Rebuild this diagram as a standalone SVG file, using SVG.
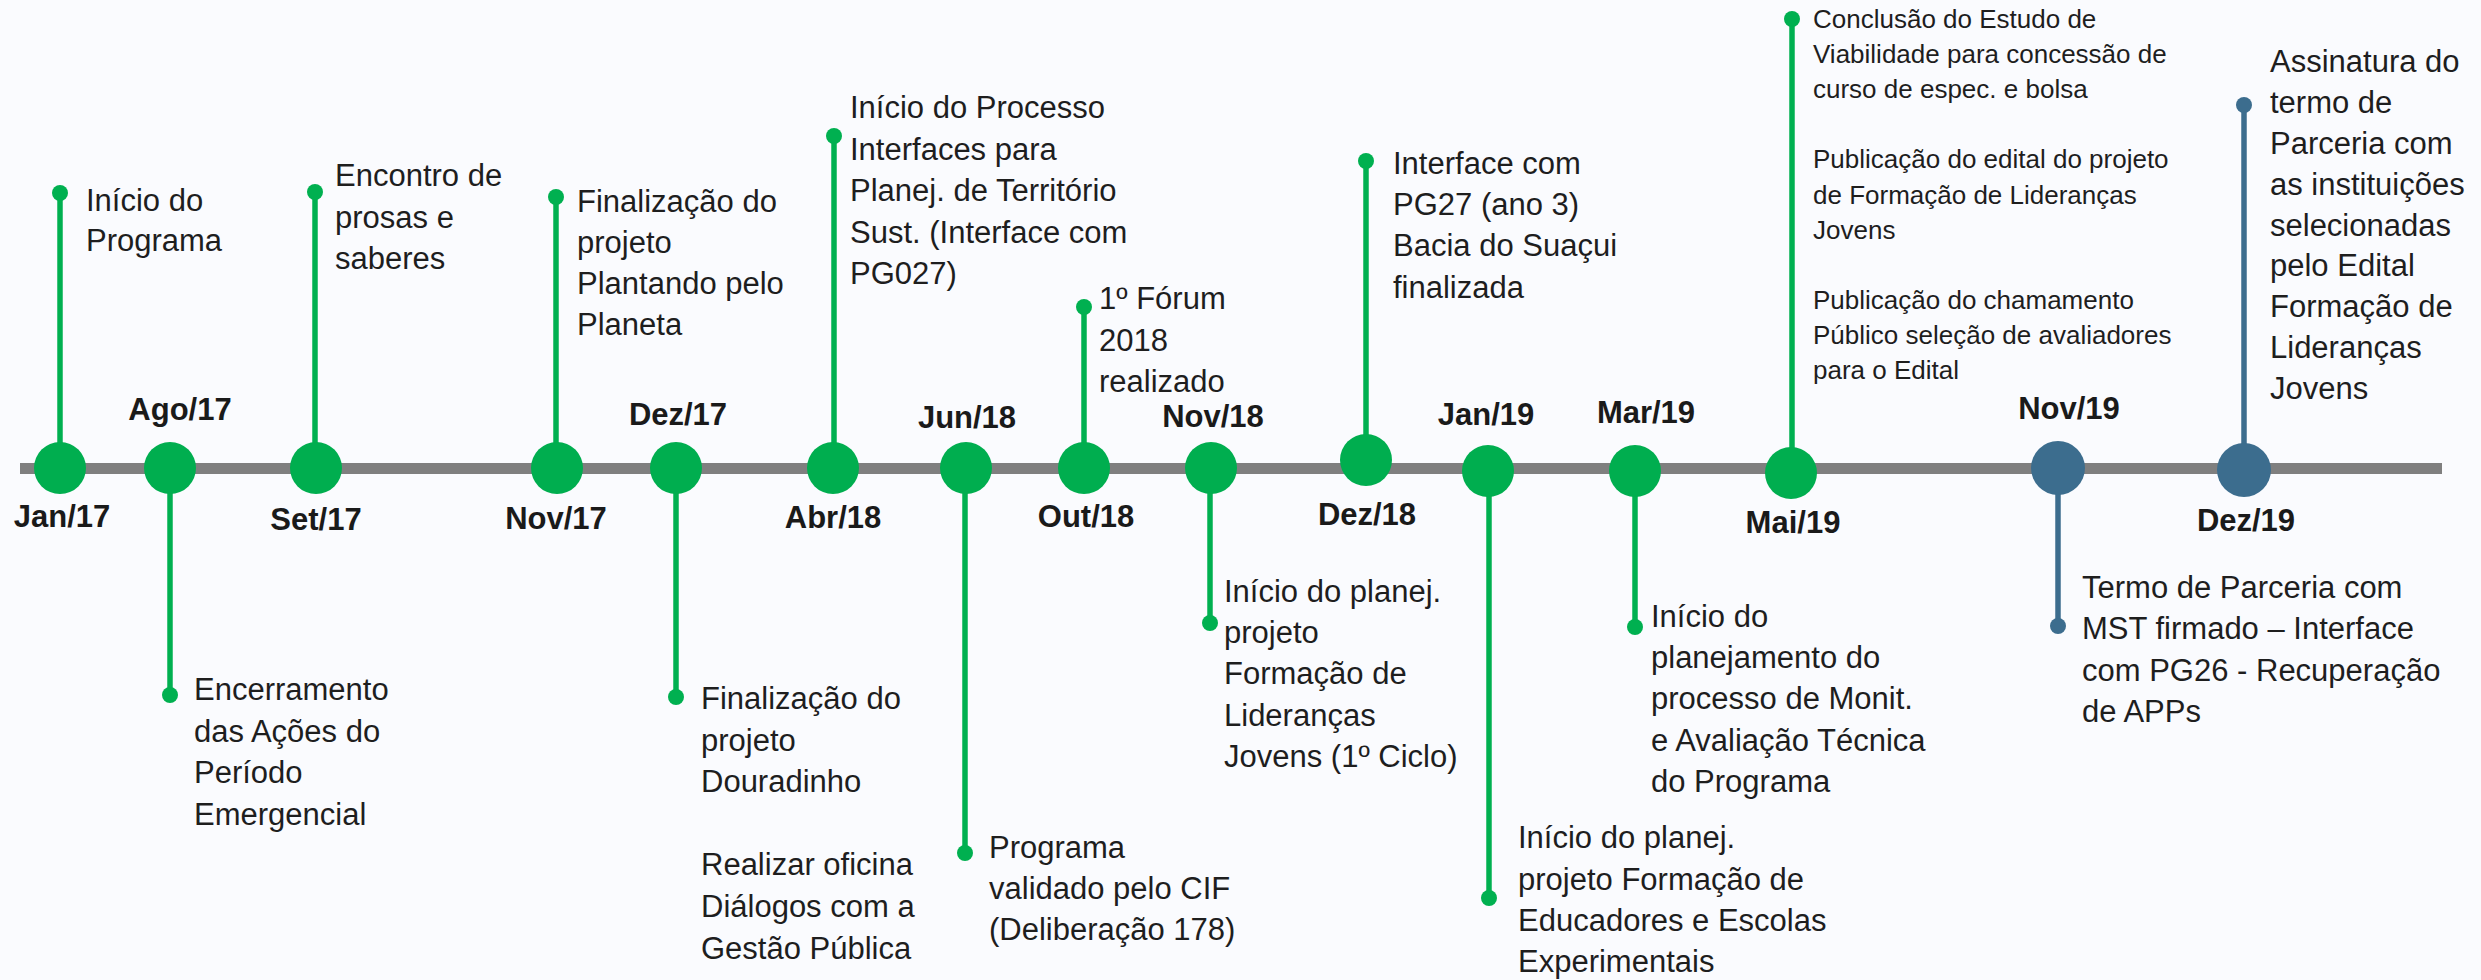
<svg xmlns="http://www.w3.org/2000/svg" width="2481" height="980" viewBox="0 0 2481 980">
<style>
.bg{fill:#FAFBFE}
.bar{stroke:#7F7F7F;stroke-width:11;fill:none}
.sg{stroke:#00B050;stroke-width:5.5;fill:none}
.sb{stroke:#3C6D8E;stroke-width:5.5;fill:none}
.cg{fill:#00AE4F}
.cb{fill:#3C6D8E}
.dg{fill:#00B050}
.db{fill:#3C6D8E}
.date{font-family:"Liberation Sans",Arial,sans-serif;font-weight:bold;font-size:31px;fill:#1A1A1A;text-anchor:middle}
.t{font-family:"Liberation Sans",Arial,sans-serif;font-size:31px;fill:#1E1E1E}
.ts{font-family:"Liberation Sans",Arial,sans-serif;font-size:26px;fill:#1E1E1E}
</style>
<rect class="bg" x="0" y="0" width="2481" height="980"/>
<g id="connectors">
<line class="bar" x1="20" y1="468.5" x2="2442" y2="468.5"/>
<line class="sg" x1="60" y1="193" x2="60" y2="468"/>
<line class="sg" x1="170" y1="468" x2="170" y2="695"/>
<line class="sg" x1="315" y1="192" x2="315" y2="468"/>
<line class="sg" x1="556" y1="197" x2="556" y2="468"/>
<line class="sg" x1="676" y1="468" x2="676" y2="697"/>
<line class="sg" x1="834" y1="136" x2="834" y2="468"/>
<line class="sg" x1="965" y1="468" x2="965" y2="853"/>
<line class="sg" x1="1084" y1="307" x2="1084" y2="468"/>
<line class="sg" x1="1210" y1="468" x2="1210" y2="623"/>
<line class="sg" x1="1366" y1="161" x2="1366" y2="460"/>
<line class="sg" x1="1489" y1="471" x2="1489" y2="898"/>
<line class="sg" x1="1635" y1="471" x2="1635" y2="627"/>
<line class="sg" x1="1792" y1="19" x2="1792" y2="473"/>
<line class="sb" x1="2058" y1="468" x2="2058" y2="626"/>
<line class="sb" x1="2244" y1="105" x2="2244" y2="470"/>
</g>
<g id="jan17">
<circle class="cg" cx="60" cy="468" r="26"/><circle class="dg" cx="60" cy="193" r="8"/>
<text class="date" x="62" y="527">Jan/17</text>
<text class="t"><tspan x="86" y="211">Início do</tspan><tspan x="86" y="251">Programa</tspan></text>
</g>
<g id="ago17">
<circle class="cg" cx="170" cy="468" r="26"/><circle class="dg" cx="170" cy="695" r="8"/>
<text class="date" x="180" y="420">Ago/17</text>
<text class="t"><tspan x="194" y="700">Encerramento</tspan><tspan x="194" y="741.5">das Ações do</tspan><tspan x="194" y="783">Período</tspan><tspan x="194" y="824.5">Emergencial</tspan></text>
</g>
<g id="set17">
<circle class="cg" cx="316" cy="468" r="26"/><circle class="dg" cx="315" cy="192" r="8"/>
<text class="date" x="316" y="530">Set/17</text>
<text class="t"><tspan x="335" y="186">Encontro de</tspan><tspan x="335" y="227.5">prosas e</tspan><tspan x="335" y="269">saberes</tspan></text>
</g>
<g id="nov17">
<circle class="cg" cx="557" cy="468" r="26"/><circle class="dg" cx="556" cy="197" r="8"/>
<text class="date" x="556" y="529">Nov/17</text>
<text class="t"><tspan x="577" y="212">Finalização do</tspan><tspan x="577" y="253">projeto</tspan><tspan x="577" y="294">Plantando pelo</tspan><tspan x="577" y="335">Planeta</tspan></text>
</g>
<g id="dez17">
<circle class="cg" cx="676" cy="468" r="26"/><circle class="dg" cx="676" cy="697" r="8"/>
<text class="date" x="678" y="425">Dez/17</text>
<text class="t"><tspan x="701" y="709">Finalização do</tspan><tspan x="701" y="750.6">projeto</tspan><tspan x="701" y="792.2">Douradinho</tspan><tspan x="701" y="875.4">Realizar oficina</tspan><tspan x="701" y="917">Diálogos com a</tspan><tspan x="701" y="958.6">Gestão Pública</tspan></text>
</g>
<g id="abr18">
<circle class="cg" cx="833" cy="468" r="26"/><circle class="dg" cx="834" cy="136" r="8"/>
<text class="date" x="833" y="528">Abr/18</text>
<text class="t"><tspan x="850" y="118">Início do Processo</tspan><tspan x="850" y="159.5">Interfaces para</tspan><tspan x="850" y="201">Planej. de Território</tspan><tspan x="850" y="242.5">Sust. (Interface com</tspan><tspan x="850" y="284">PG027)</tspan></text>
</g>
<g id="jun18">
<circle class="cg" cx="966" cy="468" r="26"/><circle class="dg" cx="965" cy="853" r="8"/>
<text class="date" x="967" y="428">Jun/18</text>
<text class="t"><tspan x="989" y="858">Programa</tspan><tspan x="989" y="899">validado pelo CIF</tspan><tspan x="989" y="940">(Deliberação 178)</tspan></text>
</g>
<g id="out18">
<circle class="cg" cx="1084" cy="468" r="26"/><circle class="dg" cx="1084" cy="307" r="8"/>
<text class="date" x="1086" y="527">Out/18</text>
<text class="t"><tspan x="1099" y="309">1º Fórum</tspan><tspan x="1099" y="350.5">2018</tspan><tspan x="1099" y="392">realizado</tspan></text>
</g>
<g id="nov18">
<circle class="cg" cx="1211" cy="468" r="26"/><circle class="dg" cx="1210" cy="623" r="8"/>
<text class="date" x="1213" y="427">Nov/18</text>
<text class="t"><tspan x="1224" y="601.7">Início do planej.</tspan><tspan x="1224" y="643">projeto</tspan><tspan x="1224" y="684.3">Formação de</tspan><tspan x="1224" y="725.6">Lideranças</tspan><tspan x="1224" y="767">Jovens (1º Ciclo)</tspan></text>
</g>
<g id="dez18">
<circle class="cg" cx="1366" cy="460" r="26"/><circle class="dg" cx="1366" cy="161" r="8"/>
<text class="date" x="1367" y="525">Dez/18</text>
<text class="t"><tspan x="1393" y="173.6">Interface com</tspan><tspan x="1393" y="215">PG27 (ano 3)</tspan><tspan x="1393" y="256.4">Bacia do Suaçui</tspan><tspan x="1393" y="297.8">finalizada</tspan></text>
</g>
<g id="jan19">
<circle class="cg" cx="1488" cy="471" r="26"/><circle class="dg" cx="1489" cy="898" r="8"/>
<text class="date" x="1486" y="425">Jan/19</text>
<text class="t"><tspan x="1518" y="848.3">Início do planej.</tspan><tspan x="1518" y="889.6">projeto Formação de</tspan><tspan x="1518" y="931">Educadores e Escolas</tspan><tspan x="1518" y="972.3">Experimentais</tspan></text>
</g>
<g id="mar19">
<circle class="cg" cx="1635" cy="471" r="26"/><circle class="dg" cx="1635" cy="627" r="8"/>
<text class="date" x="1646" y="423">Mar/19</text>
<text class="t"><tspan x="1651" y="626.7">Início do</tspan><tspan x="1651" y="668">planejamento do</tspan><tspan x="1651" y="709.3">processo de Monit.</tspan><tspan x="1651" y="750.6">e Avaliação Técnica</tspan><tspan x="1651" y="792">do Programa</tspan></text>
</g>
<g id="mai19">
<circle class="cg" cx="1791" cy="473" r="26"/><circle class="dg" cx="1792" cy="19" r="8"/>
<text class="date" x="1793" y="533">Mai/19</text>
<text class="ts"><tspan x="1813" y="28">Conclusão do Estudo de</tspan><tspan x="1813" y="63.1">Viabilidade para concessão de</tspan><tspan x="1813" y="98.2">curso de espec. e bolsa</tspan><tspan x="1813" y="168.4">Publicação do edital do projeto</tspan><tspan x="1813" y="203.5">de Formação de Lideranças</tspan><tspan x="1813" y="238.6">Jovens</tspan><tspan x="1813" y="308.8">Publicação do chamamento</tspan><tspan x="1813" y="343.9">Público seleção de avaliadores</tspan><tspan x="1813" y="379">para o Edital</tspan></text>
</g>
<g id="nov19">
<circle class="cb" cx="2058" cy="468" r="27"/><circle class="db" cx="2058" cy="626" r="8"/>
<text class="date" x="2069" y="419">Nov/19</text>
<text class="t"><tspan x="2082" y="598">Termo de Parceria com</tspan><tspan x="2082" y="639.3">MST firmado – Interface</tspan><tspan x="2082" y="680.6">com PG26 - Recuperação</tspan><tspan x="2082" y="722">de APPs</tspan></text>
</g>
<g id="dez19">
<circle class="cb" cx="2244" cy="470" r="27"/><circle class="db" cx="2244" cy="105" r="8"/>
<text class="date" x="2246" y="531">Dez/19</text>
<text class="t"><tspan x="2270" y="71.9">Assinatura do</tspan><tspan x="2270" y="112.8">termo de</tspan><tspan x="2270" y="153.7">Parceria com</tspan><tspan x="2270" y="194.6">as instituições</tspan><tspan x="2270" y="235.5">selecionadas</tspan><tspan x="2270" y="276.4">pelo Edital</tspan><tspan x="2270" y="317.3">Formação de</tspan><tspan x="2270" y="358.2">Lideranças</tspan><tspan x="2270" y="399.1">Jovens</tspan></text>
</g>
</svg>
